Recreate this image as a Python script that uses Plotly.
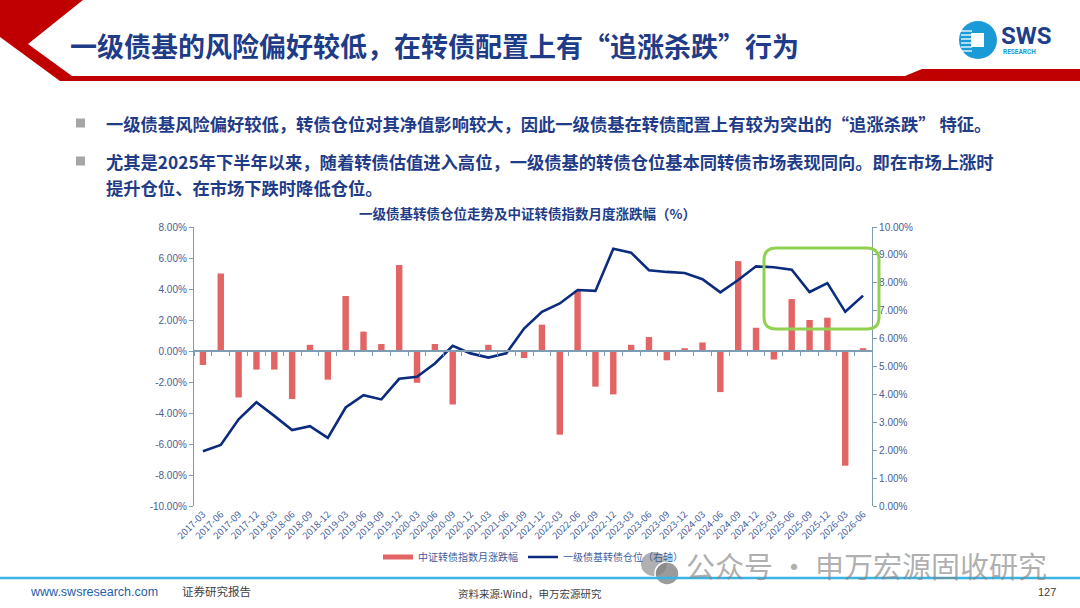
import plotly.graph_objects as go

# ---------------- data ----------------
categories = [
    "2017-03", "2017-06", "2017-09", "2017-12",
    "2018-03", "2018-06", "2018-09", "2018-12",
    "2019-03", "2019-06", "2019-09", "2019-12",
    "2020-03", "2020-06", "2020-09", "2020-12",
    "2021-03", "2021-06", "2021-09", "2021-12",
    "2022-03", "2022-06", "2022-09", "2022-12",
    "2023-03", "2023-06", "2023-09", "2023-12",
    "2024-03", "2024-06", "2024-09", "2024-12",
    "2025-03", "2025-06", "2025-09", "2025-12",
    "2026-03", "2026-06",
]
index_change = [  # 中证转债指数月涨跌幅 (%)
    -0.9, 5.0, -3.0, -1.2,
    -1.2, -3.1, 0.4, -1.85,
    3.55, 1.25, 0.45, 5.55,
    -2.05, 0.45, -3.45, 0.05,
    0.4, 0.05, -0.45, 1.7,
    -5.4, 3.9, -2.3, -2.8,
    0.4, 0.9, -0.6, 0.18,
    0.55, -2.65, 5.8, 1.5,
    -0.55, 3.35, 2.0, 2.15,
    -7.4, 0.18,
]
fund_position = [  # 一级债基转债仓位 (%) 右轴
    1.96, 2.19, 3.11, 3.72,
    3.23, 2.72, 2.86, 2.44,
    3.53, 3.97, 3.82, 4.56,
    4.63, 5.11, 5.74, 5.47,
    5.32, 5.47, 6.36, 6.96,
    7.26, 7.74, 7.71, 9.22,
    9.08, 8.45, 8.39, 8.35,
    8.13, 7.66, 8.10, 8.59,
    8.56, 8.47, 7.67, 7.99,
    6.96, 7.54,
]
bar_name = "中证转债指数月涨跌幅"
line_name = "一级债基转债仓位（右轴）"
left_ticks = [-10, -8, -6, -4, -2, 0, 2, 4, 6, 8]
right_ticks = [0, 1, 2, 3, 4, 5, 6, 7, 8, 9, 10]

# ---------------- geometry helpers ----------------
W, H = 1080, 608
PL, PR, PT, PB = 194, 872, 227, 506
def X(px):
    return (px - PL) / (PR - PL)
def Y(py):
    return (PB - py) / (PB - PT)
def poly(points):
    return "M " + " L ".join(f"{X(a):.5f},{Y(b):.5f}" for a, b in points) + " Z"

NAVY = "#1F3C88"
TICK = "#4A5E90"
AXIS = "#7F9CB3"
FONT = "Noto Sans CJK SC"
BAR_C = "#E26464"
LINE_C = "#0B2C7E"

fig = go.Figure()
fig.add_trace(go.Bar(
    x=categories, y=index_change, name=bar_name, showlegend=False,
    marker=dict(color=BAR_C, line=dict(width=0)),
    xaxis="x", yaxis="y",
))
# legend entry for bars (wide flat swatch like the reference)
fig.add_trace(go.Scatter(
    x=[None], y=[None], name=bar_name, mode="lines",
    line=dict(color=BAR_C, width=5), xaxis="x", yaxis="y", hoverinfo="skip",
))
fig.add_trace(go.Scatter(
    x=categories, y=fund_position, name=line_name, mode="lines",
    line=dict(color=LINE_C, width=2.6),
    xaxis="x", yaxis="y2",
))
# helper trace for the zero-line category axis (tick marks at boundaries)
fig.add_trace(go.Scatter(
    x=categories, y=[0] * len(categories), xaxis="x2", yaxis="y",
    showlegend=False, hoverinfo="skip", mode="markers", marker=dict(opacity=0),
))

shapes = []
# header red chevron and bar
shapes.append(dict(type="path", xref="paper", yref="paper",
                   path=poly([(0, 0), (83, 0), (28, 44), (72, 76), (72, 81), (60, 81), (0, 37)]),
                   fillcolor="#C00000", line=dict(width=0), layer="above"))
shapes.append(dict(type="path", xref="paper", yref="paper",
                   path=poly([(66, 76), (905, 76), (922, 69), (1080, 69), (1080, 81), (66, 81)]),
                   fillcolor="#C00000", line=dict(width=0), layer="above"))
# logo
shapes.append(dict(type="circle", xref="paper", yref="paper",
                   x0=X(959), x1=X(997), y0=Y(59), y1=Y(21),
                   fillcolor="#1A9AD6", line=dict(width=0)))
for yy in [31, 35, 39, 43, 47, 51]:
    shapes.append(dict(type="line", xref="paper", yref="paper",
                       x0=X(961), x1=X(972), y0=Y(yy), y1=Y(yy),
                       line=dict(color="white", width=1.3)))
shapes.append(dict(type="rect", xref="paper", yref="paper",
                   x0=X(971), x1=X(984), y0=Y(47), y1=Y(33),
                   fillcolor="white", line=dict(width=0)))
# bullets
for by in [123, 161]:
    shapes.append(dict(type="rect", xref="paper", yref="paper",
                       x0=X(76), x1=X(85), y0=Y(by + 4.5), y1=Y(by - 4.5),
                       fillcolor="#A6A6A6", line=dict(width=0)))
# green rounded rectangle highlight
gx0, gx1, gy0, gy1, r = 764, 879, 248, 329, 12
rx = r / (PR - PL)
ry = r / (PB - PT)
ax0, ax1, ay0, ay1 = X(gx0), X(gx1), Y(gy1), Y(gy0)
path = (f"M {ax0+rx},{ay1} L {ax1-rx},{ay1} Q {ax1},{ay1} {ax1},{ay1-ry} "
        f"L {ax1},{ay0+ry} Q {ax1},{ay0} {ax1-rx},{ay0} "
        f"L {ax0+rx},{ay0} Q {ax0},{ay0} {ax0},{ay0+ry} "
        f"L {ax0},{ay1-ry} Q {ax0},{ay1} {ax0+rx},{ay1} Z")
shapes.append(dict(type="path", xref="paper", yref="paper", path=path,
                   line=dict(color="#92D050", width=3), fillcolor="rgba(0,0,0,0)"))
# wechat icon (watermark)
shapes.append(dict(type="circle", xref="paper", yref="paper",
                   x0=X(641), x1=X(667), y0=Y(576), y1=Y(552),
                   fillcolor="rgba(150,150,150,0.75)", line=dict(width=0)))
shapes.append(dict(type="circle", xref="paper", yref="paper",
                   x0=X(655), x1=X(679), y0=Y(585), y1=Y(562),
                   fillcolor="rgba(130,130,130,0.8)", line=dict(color="white", width=1.5)))
# footer line
shapes.append(dict(type="line", xref="paper", yref="paper",
                   x0=X(0), x1=X(1080), y0=Y(578), y1=Y(578),
                   line=dict(color="#3AB3E4", width=2.5)))

ann = []
def text(px, py, s, size, color, xanchor="left", bold=False, family=FONT, yanchor="middle"):
    ann.append(dict(x=X(px), y=Y(py), xref="paper", yref="paper", text=(f"<b>{s}</b>" if bold else s),
                    showarrow=False, xanchor=xanchor, yanchor=yanchor,
                    font=dict(size=size, color=color, family=family)))

text(68, 45, "一级债基的风险偏好较低，在转债配置上有“追涨杀跌”行为", 27, NAVY, bold=True)
text(999, 36, "SWS", 24, "#1E3E8C", bold=True, family="Roboto")
text(1001, 52, "RESEARCH", 6.5, "#1A9AD6", bold=True, family="Roboto")
text(104, 123, "一级债基风险偏好较低，转债仓位对其净值影响较大，因此一级债基在转债配置上有较为突出的“追涨杀跌” 特征。", 17.3, NAVY, bold=True)
text(104, 161, "尤其是2025年下半年以来，随着转债估值进入高位，一级债基的转债仓位基本同转债市场表现同向。即在市场上涨时", 17.3, NAVY, bold=True)
text(104, 187, "提升仓位、在市场下跌时降低仓位。", 17.3, NAVY, bold=True)
text(527, 213, "一级债基转债仓位走势及中证转债指数月度涨跌幅（%）", 13.5, NAVY, xanchor="center", bold=True)
text(684, 565, "公众号 · 申万宏源固收研究", 29, "rgba(130,130,130,0.65)")
text(28, 592, "www.swsresearch.com", 12.5, "#1F5FA8", family="Liberation Sans")
text(180, 591, "证券研究报告", 11.5, "#404040")
text(530, 593, "资料来源:Wind，申万宏源研究", 10.5, "#404040", xanchor="center")
text(1058, 592, "127", 11, "#404040", xanchor="right", family="Liberation Sans")

fig.update_layout(
    width=W, height=H,
    margin=dict(l=PL, r=W - PR, t=PT, b=H - PB, pad=0),
    paper_bgcolor="white", plot_bgcolor="white",
    font=dict(family=FONT, color=TICK),
    bargap=0.64,
    showlegend=True,
    legend=dict(orientation="h", x=X(533), y=Y(557), xanchor="center", yanchor="middle",
                font=dict(size=10, color="#3F5C9A"), bgcolor="rgba(0,0,0,0)",
                itemwidth=30, tracegroupgap=0),
    xaxis=dict(type="category", categoryorder="array", categoryarray=categories,
               range=[-0.5, len(categories) - 0.5],
               showline=False, ticks="", tickangle=-45, showgrid=False, zeroline=False,
               tickfont=dict(size=9.5, color="#3F5C9A", family=FONT)),
    xaxis2=dict(type="category", categoryorder="array", categoryarray=categories,
                range=[-0.5, len(categories) - 0.5],
                overlaying="x", anchor="free", position=10 / 18, side="bottom",
                showline=True, linecolor=AXIS, linewidth=1.5, ticks="outside", tickson="boundaries",
                ticklen=4, tickcolor=AXIS, tickwidth=1.2, showticklabels=False, showgrid=False,
                zeroline=False),
    yaxis=dict(range=[-10, 8], tickvals=left_ticks,
               ticktext=[f"{v:.2f}%" for v in left_ticks],
               showline=True, linecolor=AXIS, linewidth=1.2, ticks="outside", ticklen=4, tickcolor=AXIS,
               showgrid=False, zeroline=True, zerolinecolor=AXIS, zerolinewidth=1.5,
               tickfont=dict(size=10, color=TICK, family="Liberation Sans")),
    yaxis2=dict(range=[0, 10], tickvals=right_ticks, overlaying="y", side="right",
                ticktext=[f"{v:.2f}%" for v in right_ticks],
                showline=True, linecolor=AXIS, linewidth=1.2, ticks="outside", ticklen=4, tickcolor=AXIS,
                showgrid=False, zeroline=False, tickfont=dict(size=10, color=TICK, family="Liberation Sans")),
    shapes=shapes,
    annotations=ann,
)

fig.write_html("out.html", config={"displayModeBar": False},
               post_script="document.body.style.margin='0px';document.body.style.overflow='hidden';")
